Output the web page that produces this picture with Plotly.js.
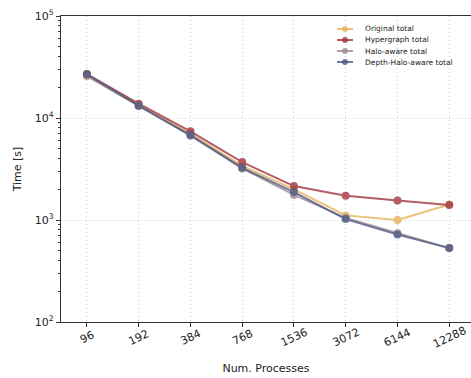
<!DOCTYPE html>
<html><head><meta charset="utf-8">
<script src="https://cdn.plot.ly/plotly-3.0.1.min.js"></script>
<style>body{margin:0;background:#fff}#chart{width:471px;height:378px}</style>
</head><body><div id="chart"></div>
<script>
const processes = ["96","192","384","768","1536","3072","6144","12288"];
const originalTotal = [26500, 13400, 7000, 3400, 2000, 1110, 1000, 1420];
const hypergraphTotal = [27000, 13800, 7400, 3700, 2150, 1730, 1550, 1400];
const haloAwareTotal = [25800, 13100, 6700, 3200, 1760, 1050, 740, 530];
const depthHaloTotal = [26800, 13200, 6800, 3250, 1880, 1020, 720, 530];
const seriesNames = ["Original total","Hypergraph total","Halo-aware total","Depth-Halo-aware total"];
const seriesColors = ["#e6b45a","#a3343f","#a08a8c","#4d5a85"];
const yTickVals = [100, 1000, 10000, 100000];
const yTickText = ["10<sup>2</sup>","10<sup>3</sup>","10<sup>4</sup>","10<sup>5</sup>"];
const minorVals = [];
[100,1000,10000].forEach(d=>{for(let k=2;k<=9;k++)minorVals.push(k*d);});

const W=471, H=378, mL=61, mR=0, mT=16, mB=56;
const pw=W-mL-mR, ph=H-mT-mB;
const allY = [originalTotal, hypergraphTotal, haloAwareTotal, depthHaloTotal];
const traces = allY.map((y,i)=>({
  x: processes, y: y, name: seriesNames[i], type:'scatter', mode:'lines+markers',
  line:{color:seriesColors[i], width:2}, marker:{color:seriesColors[i], size:8},
  opacity:0.8, showlegend:false
}));
const shapes=[], annotations=[];
const lgX0=(337-mL)/pw, lgX1=(353-mL)/pw, lgTx=(363-mL)/pw;
seriesNames.forEach((n,i)=>{
  const yp = 1-((29+i*11)-mT)/ph;
  shapes.push({type:'line', xref:'paper', yref:'paper', x0:lgX0, x1:lgX1, y0:yp, y1:yp,
    line:{color:seriesColors[i], width:2}, opacity:0.8});
  shapes.push({type:'circle', xref:'paper', yref:'paper', x0:(345-3-mL)/pw, x1:(345+3-mL)/pw,
    y0:yp-3/ph, y1:yp+3/ph, fillcolor:seriesColors[i], line:{width:0}, opacity:0.8});
  annotations.push({xref:'paper', yref:'paper', x:lgTx, y:yp, xanchor:'left', yanchor:'middle',
    text:n, showarrow:false, font:{family:'DejaVu Sans, sans-serif', size:7.5, color:'#222'}});
});
processes.forEach((p,i)=>{
  annotations.push({xref:'paper', yref:'paper', x:(i+0.5)/7.92, y:-(15/ph), yanchor:'middle', xanchor:'center',
    text:p, textangle:-25, showarrow:false, font:{family:'DejaVu Sans, sans-serif', size:11, color:'#222'}});
});
const font = {family:'DejaVu Sans, sans-serif', size:11, color:'#222'};
Plotly.newPlot('chart', traces, {
  width:W, height:H,
  margin:{l:mL, r:mR, t:mT, b:mB},
  paper_bgcolor:'#fff', plot_bgcolor:'#fff',
  font: font,
  showlegend:false,
  shapes: shapes, annotations: annotations,
  xaxis:{type:'category', range:[-0.5, 7.42], showline:true, linecolor:'#333', linewidth:1.2, mirror:true,
    ticks:'outside', ticklen:4, tickcolor:'#333', showticklabels:false,
    showgrid:true, gridcolor:'#ccc', griddash:'1px,3px', gridwidth:1, zeroline:false,
    title:{text:'Num. Processes', font:{size:11}, standoff:38}},
  yaxis:{type:'log', range:[2,5], showline:true, linecolor:'#333', linewidth:1.2, mirror:false,
    tickmode:'array', tickvals:yTickVals, ticktext:yTickText,
    ticks:'outside', ticklen:4, tickcolor:'#333',
    minor:{tickmode:'array', tickvals:minorVals, ticks:'outside', ticklen:2, tickcolor:'#333', showgrid:false},
    showgrid:true, gridcolor:'#ccc', griddash:'1px,3px', gridwidth:1, zeroline:false,
    title:{text:'Time [s]', font:{size:11}, standoff:10}}
}, {displayModeBar:false, staticPlot:true});
</script></body></html>
